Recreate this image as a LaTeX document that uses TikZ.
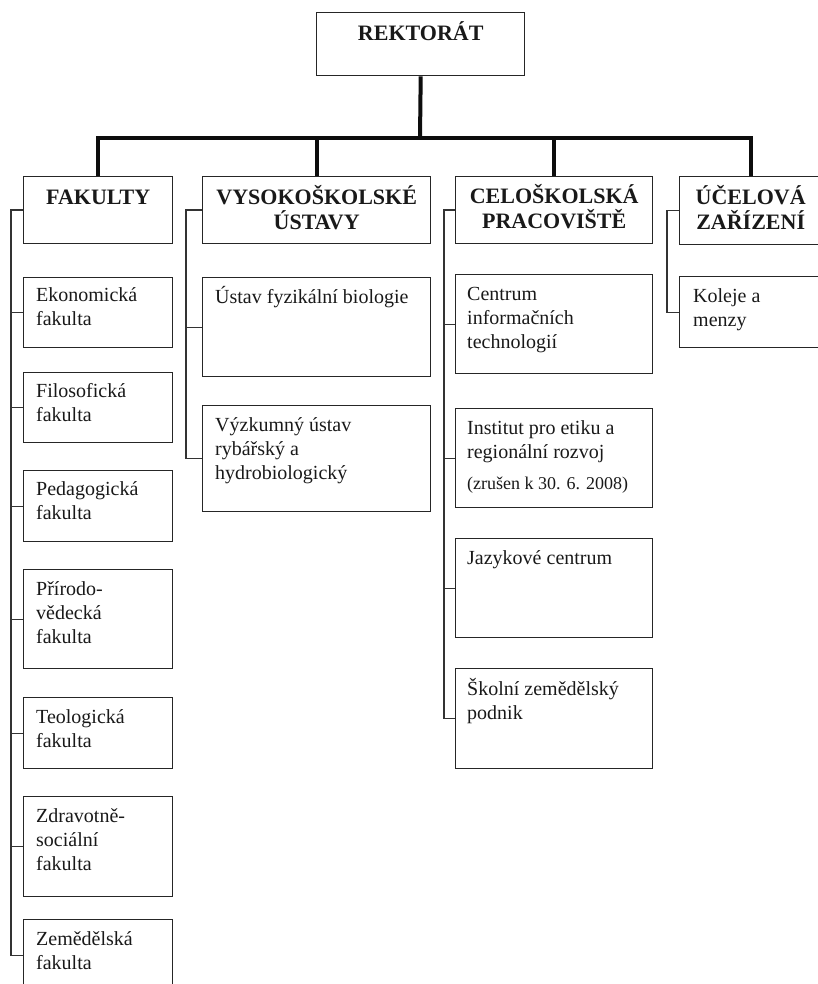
\documentclass[tikz,border=0pt]{standalone}
\usepackage{fontspec}
\setmainfont{Liberation Serif}
\newcommand{\toplines}[2]{\parbox[t]{#1}{\raggedright #2}}
\newcommand{\ctrlines}[2]{\parbox[t]{#1}{\centering #2}}
\begin{document}
\begin{tikzpicture}[x=1pt,y=-1pt,
  box/.style={draw=black!85, line width=1.4pt, anchor=north west, inner sep=0pt},
  head/.style={font=\bfseries\fontsize{22}{25}\selectfont, anchor=base, inner sep=0pt, text=black!90},
  lbl/.style={font=\fontsize{20}{24}\selectfont, anchor=base west, inner sep=0pt, text=black!90},
  small/.style={font=\fontsize{18}{22}\selectfont, anchor=base west, inner sep=0pt, text=black!90},
  trunk/.style={line width=4pt, line join=miter, draw=black!95},
  link/.style={line width=1.4pt, draw=black!80, line join=miter}]
\useasboundingbox (0,0) rectangle (818,984);

% top
\node[box, minimum width=208pt, minimum height=63pt] (rek) at (316,12) {};
\node[head] (rekT) at ([yshift=-28.5pt]rek.north) {REKTORÁT};

% headings
\node[box, minimum width=149pt, minimum height=67pt] (fak) at (23,176) {};
\node[box, minimum width=228pt, minimum height=67pt] (vs) at (202,176) {};
\node[box, minimum width=197pt, minimum height=67pt] (cp) at (455,176) {};
\node[box, minimum width=142pt, minimum height=68pt] (uz) at (679,176) {};
\node[head] (fakT) at ([yshift=-28.5pt]fak.north) {FAKULTY};
\node[head] (vsT) at ([yshift=-28.5pt]vs.north) {\ctrlines{228pt}{VYSOKOŠKOLSKÉ\\ÚSTAVY}};
\node[head] (cpT) at ([yshift=-27.5pt]cp.north) {\ctrlines{197pt}{CELOŠKOLSKÁ\\PRACOVIŠTĚ}};
\node[head] (uzT) at ([yshift=-28.5pt]uz.north) {\ctrlines{142pt}{ÚČELOVÁ\\ZAŘÍZENÍ}};

% fakulty
\node[box, minimum width=149pt, minimum height=70pt] (ek) at (23,277) {};
\node[box, minimum width=149pt, minimum height=70pt] (fi) at (23,372) {};
\node[box, minimum width=149pt, minimum height=71pt] (pe) at (23,470) {};
\node[box, minimum width=149pt, minimum height=99pt] (pr) at (23,569) {};
\node[box, minimum width=149pt, minimum height=71pt] (te) at (23,697) {};
\node[box, minimum width=149pt, minimum height=100pt] (zd) at (23,796) {};
\node[box, minimum width=149pt, minimum height=71pt] (ze) at (23,919) {};
\node[lbl] (ekT) at ([xshift=13pt,yshift=-24pt]ek.north west) {\toplines{135pt}{Ekonomická\\fakulta}};
\node[lbl] (fiT) at ([xshift=13pt,yshift=-25pt]fi.north west) {\toplines{135pt}{Filosofická\\fakulta}};
\node[lbl] (peT) at ([xshift=13pt,yshift=-25pt]pe.north west) {\toplines{135pt}{Pedagogická\\fakulta}};
\node[lbl] (prT) at ([xshift=13pt,yshift=-26pt]pr.north west) {\toplines{135pt}{Přírodo-\\vědecká\\fakulta}};
\node[lbl] (teT) at ([xshift=13pt,yshift=-26pt]te.north west) {\toplines{135pt}{Teologická\\fakulta}};
\node[lbl] (zdT) at ([xshift=13pt,yshift=-26pt]zd.north west) {\toplines{135pt}{Zdravotně-\\sociální\\fakulta}};
\node[lbl] (zeT) at ([xshift=13pt,yshift=-26pt]ze.north west) {\toplines{135pt}{Zemědělská\\fakulta}};

% vysokoskolske ustavy
\node[box, minimum width=228pt, minimum height=99pt] (us) at (202,277) {};
\node[box, minimum width=228pt, minimum height=106pt] (vy) at (202,405) {};
\node[lbl] (usT) at ([xshift=13pt,yshift=-26pt]us.north west) {Ústav fyzikální biologie};
\node[lbl] (vyT) at ([xshift=13pt,yshift=-26pt]vy.north west) {\toplines{210pt}{Výzkumný ústav\\rybářský a\\hydrobiologický}};

% celoskolska pracoviste
\node[box, minimum width=197pt, minimum height=99pt] (ce) at (455,274) {};
\node[box, minimum width=197pt, minimum height=99pt] (in) at (455,408) {};
\node[box, minimum width=197pt, minimum height=99pt] (ja) at (455,538) {};
\node[box, minimum width=197pt, minimum height=100pt] (sk) at (455,668) {};
\node[lbl] (ceT) at ([xshift=12pt,yshift=-26pt]ce.north west) {\toplines{180pt}{Centrum\\informačních\\technologií}};
\node[lbl] (inT) at ([xshift=12pt,yshift=-26pt]in.north west) {\toplines{180pt}{Institut pro etiku a\\regionální rozvoj}};
\node[small] (inS) at ([xshift=12pt,yshift=-81pt]in.north west) {(zrušen k 30. 6. 2008)};
\node[lbl] (jaT) at ([xshift=12pt,yshift=-26pt]ja.north west) {Jazykové centrum};
\node[lbl] (skT) at ([xshift=12pt,yshift=-27pt]sk.north west) {\toplines{180pt}{Školní zemědělský\\podnik}};

% ucelova zarizeni
\node[box, minimum width=142pt, minimum height=71pt] (ko) at (679,276) {};
\node[lbl] (koT) at ([xshift=14pt,yshift=-26pt]ko.north west) {\toplines{120pt}{Koleje a\\menzy}};

% trunk connectors
\coordinate (bus) at (420,138);
\draw[trunk] (rek.south) -- (bus);
\draw[trunk] (fak.north) |- (bus) -| (uz.north);
\draw[trunk] (vs.north) -- (vs.north |- bus);
\draw[trunk] (cp.north) -- (cp.north |- bus);

% side brackets
\coordinate (fx) at (11,0);
\coordinate (vx) at (186,0);
\coordinate (cx) at (444,0);
\coordinate (ux) at (667,0);
\foreach \n in {ek,fi,pe,pr,te,zd,ze} \draw[link] (fak.west) -- (fak.west -| fx) |- (\n.west);
\foreach \n in {us,vy} \draw[link] (vs.west) -- (vs.west -| vx) |- (\n.west);
\foreach \n in {ce,in,ja,sk} \draw[link] (cp.west) -- (cp.west -| cx) |- (\n.west);
\draw[link] (uz.west) -- (uz.west -| ux) |- (ko.west);
\end{tikzpicture}
\end{document}
